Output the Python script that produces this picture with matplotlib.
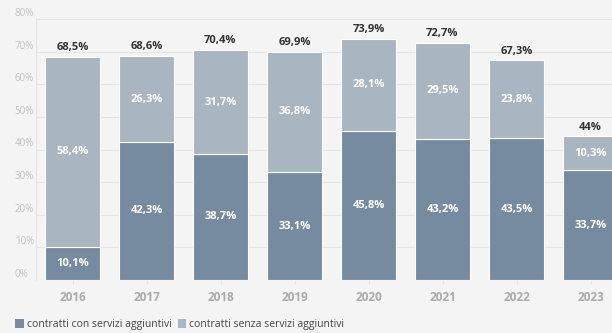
import numpy as np
import matplotlib.pyplot as plt
from matplotlib.patches import Patch

years = ['2016', '2017', '2018', '2019', '2020', '2021', '2022', '2023']
con_servizi = [10.1, 42.3, 38.7, 33.1, 45.8, 43.2, 43.5, 33.7]
senza_servizi = [58.4, 26.3, 31.7, 36.8, 28.1, 29.5, 23.8, 10.3]
totali = ['68,5%', '68,6%', '70,4%', '69,9%', '73,9%', '72,7%', '67,3%', '44%']

dark = '#768ba0'
light = '#a9b5c1'
bg = '#f4f4f4'

plt.rcParams['font.family'] = ['Open Sans', 'DejaVu Sans']

fig = plt.figure(figsize=(6.12, 3.33), dpi=100, facecolor=bg)
ax = fig.add_axes([35.5 / 612, 1 - 280 / 333, 592 / 612, 261 / 333], facecolor=bg)

x = np.arange(len(years))
w = 0.745
ax.bar(x, con_servizi, w, color=dark, edgecolor='white', linewidth=0.8, zorder=3)
ax.bar(x, senza_servizi, w, bottom=con_servizi, color=light, edgecolor='white', linewidth=0.8, zorder=3)

# value labels inside the segments and totals on top
for i in range(len(years)):
    ax.text(x[i], con_servizi[i] / 2, f'{con_servizi[i]:.1f}%'.replace('.', ','),
            ha='center', va='center', color='white', fontsize=8, fontweight='bold', zorder=4)
    ax.text(x[i], con_servizi[i] + senza_servizi[i] / 2, f'{senza_servizi[i]:.1f}%'.replace('.', ','),
            ha='center', va='center', color='white', fontsize=8, fontweight='bold', zorder=4)
    ax.text(x[i], con_servizi[i] + senza_servizi[i] + 1.2, totali[i],
            ha='center', va='bottom', color='#333333', fontsize=8, fontweight='bold', zorder=4)

ax.set_xlim(-0.5, 7.5)
ax.set_ylim(0, 80)
ax.set_yticks(range(0, 90, 10))
ax.set_yticklabels([f'{v}%' for v in range(0, 90, 10)], fontsize=7, color='#c0c0c0')
for lab in ax.get_yticklabels():
    lab.set_ha('left')
    lab.set_va('bottom')
ax.tick_params(axis='y', length=0, pad=15)
ax.set_xticks(x)
ax.set_xticklabels(years, fontsize=8.5, fontweight='bold', color='#aaaaaa')
ax.tick_params(axis='x', length=3, color='#e4e4e4', pad=5)

ax.grid(axis='y', color='#e4e4e4', linewidth=0.8, zorder=0)
for s in ['top', 'right', 'bottom']:
    ax.spines[s].set_visible(False)
ax.spines['left'].set_color('#e4e4e4')
ax.spines['left'].set_linewidth(0.8)

handles = [Patch(facecolor=dark, label='contratti con servizi aggiuntivi'),
           Patch(facecolor=light, label='contratti senza servizi aggiuntivi')]
fig.legend(handles=handles, loc='lower left', bbox_to_anchor=(0.01, -0.02), ncol=2,
           frameon=False, fontsize=7.5, labelcolor='#444444', handlelength=0.8,
           handleheight=1.0, handletextpad=0.3, columnspacing=0.6)

plt.savefig('out.png', dpi=100, facecolor=bg)
